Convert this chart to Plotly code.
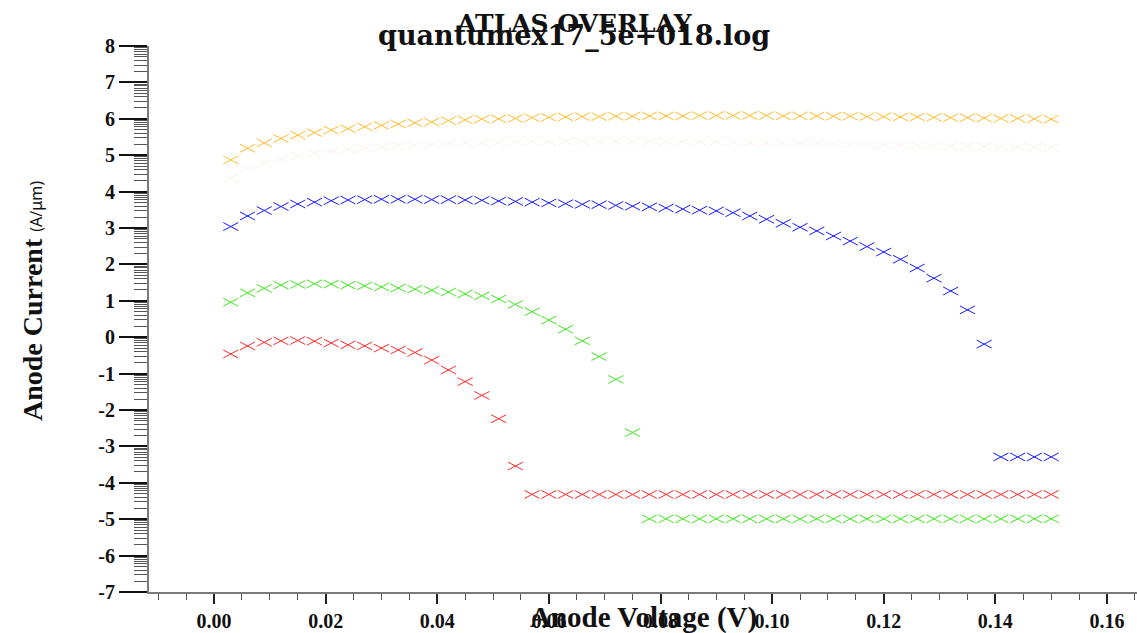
import math
import plotly.graph_objects as go

# Anode voltage sweep (V)
voltage = [0.003, 0.006, 0.009, 0.012, 0.015, 0.018, 0.021, 0.024, 0.027, 0.030,
           0.033, 0.036, 0.039, 0.042, 0.045, 0.048, 0.051, 0.054, 0.057, 0.060,
           0.063, 0.066, 0.069, 0.072, 0.075, 0.078, 0.081, 0.084, 0.087, 0.090,
           0.093, 0.096, 0.099, 0.102, 0.105, 0.108, 0.111, 0.114, 0.117, 0.120,
           0.123, 0.126, 0.129, 0.132, 0.135, 0.138, 0.141, 0.144, 0.147, 0.150]

# Anode current (A/um) per overlaid log file
current_pale = [4.37, 4.64, 4.78, 4.89, 4.98, 5.05, 5.11, 5.16, 5.20, 5.23,
                5.26, 5.28, 5.30, 5.32, 5.33, 5.34, 5.35, 5.36, 5.37, 5.37,
                5.38, 5.38, 5.38, 5.38, 5.38, 5.38, 5.37, 5.37, 5.36, 5.36,
                5.35, 5.35, 5.34, 5.33, 5.33, 5.32, 5.31, 5.30, 5.30, 5.29,
                5.28, 5.27, 5.26, 5.25, 5.25, 5.24, 5.23, 5.22, 5.22, 5.21]

current_orange = [4.87, 5.19, 5.34, 5.46, 5.55, 5.62, 5.69, 5.73, 5.78, 5.82,
                  5.86, 5.89, 5.91, 5.95, 5.97, 5.99, 6.00, 6.01, 6.03, 6.04,
                  6.05, 6.06, 6.06, 6.07, 6.07, 6.08, 6.08, 6.08, 6.09, 6.09,
                  6.09, 6.09, 6.09, 6.08, 6.08, 6.08, 6.07, 6.07, 6.06, 6.06,
                  6.05, 6.05, 6.04, 6.03, 6.03, 6.02, 6.01, 6.01, 6.00, 5.99]

current_blue = [3.04, 3.33, 3.48, 3.59, 3.66, 3.71, 3.75, 3.77, 3.78, 3.79,
                3.79, 3.79, 3.78, 3.78, 3.77, 3.76, 3.74, 3.73, 3.71, 3.69,
                3.67, 3.65, 3.64, 3.62, 3.60, 3.58, 3.55, 3.52, 3.49, 3.47,
                3.42, 3.33, 3.24, 3.13, 3.02, 2.92, 2.78, 2.64, 2.49, 2.34,
                2.14, 1.90, 1.62, 1.27, 0.75, -0.19, -3.29, -3.29, -3.29, -3.29]

current_green = [0.96, 1.22, 1.34, 1.43, 1.45, 1.47, 1.46, 1.43, 1.41, 1.38,
                 1.35, 1.32, 1.29, 1.24, 1.19, 1.14, 1.05, 0.90, 0.70, 0.47,
                 0.22, -0.10, -0.53, -1.16, -2.62, -4.99, -4.99, -4.99, -4.99, -4.99,
                 -4.99, -4.99, -4.99, -4.99, -4.99, -4.99, -4.99, -4.99, -4.99, -4.99,
                 -4.99, -4.99, -4.99, -4.99, -4.99, -4.99, -4.99, -4.99, -4.99, -4.99]

current_red = [-0.46, -0.24, -0.14, -0.10, -0.09, -0.11, -0.16, -0.21, -0.24, -0.30,
               -0.35, -0.42, -0.63, -0.90, -1.22, -1.60, -2.24, -3.54, -4.32, -4.32,
               -4.32, -4.32, -4.32, -4.32, -4.32, -4.32, -4.32, -4.32, -4.32, -4.32,
               -4.32, -4.32, -4.32, -4.32, -4.32, -4.32, -4.32, -4.32, -4.32, -4.32,
               -4.32, -4.32, -4.32, -4.32, -4.32, -4.32, -4.32, -4.32, -4.32, -4.32]

series = [
    ("pale", current_pale, "#fdf1ee"),
    ("orange", current_orange, "#ffbb2a"),
    ("blue", current_blue, "#1a1aff"),
    ("green", current_green, "#3ee81e"),
    ("red", current_red, "#ff2a2a"),
]

x_ticks = [0.00, 0.02, 0.04, 0.06, 0.08, 0.10, 0.12, 0.14, 0.16]
y_ticks = [-7, -6, -5, -4, -3, -2, -1, 0, 1, 2, 3, 4, 5, 6, 7, 8]

X_RANGE = [-0.01165, 0.16538]
Y_RANGE = [-7, 8]

# half-size of the wide "x" glyph in data units
HALF_W = 0.00135
HALF_H = 0.11

SERIF = "Liberation Serif"
TITLE_SERIF = "DejaVu Serif"


def cross_path(xs, ys):
    """Two diagonal strokes per sample, separated by gaps."""
    px, py = [], []
    for x, y in zip(xs, ys):
        px += [x - HALF_W, x + HALF_W, None, x - HALF_W, x + HALF_W, None]
        py += [y - HALF_H, y + HALF_H, None, y + HALF_H, y - HALF_H, None]
    return px, py


fig = go.Figure()
for name, values, color in series:
    px, py = cross_path(voltage, values)
    fig.add_trace(go.Scatter(
        x=px, y=py, mode="lines", name=name,
        line=dict(color=color, width=1), hoverinfo="skip",
        showlegend=False,
    ))

# log-style minor ticks on the current axis
y_minor = []
for n in range(Y_RANGE[0], Y_RANGE[1]):
    for k in range(2, 10):
        y_minor.append(n + math.log10(k))

tick_font = dict(family=SERIF, size=20, color="#111111", weight="bold")

fig.update_layout(
    width=1137, height=633,
    margin=dict(l=149, r=0, t=46, b=41),
    plot_bgcolor="white", paper_bgcolor="white",
    xaxis=dict(
        range=X_RANGE, showgrid=False, zeroline=False,
        showline=True, linecolor="#7a7a7a", linewidth=2,
        tickmode="array", tickvals=x_ticks,
        ticktext=[f"{v:.2f}" for v in x_ticks],
        ticks="outside", ticklen=10, tickwidth=2, tickcolor="#222222",
        tickfont=tick_font,
        minor=dict(tick0=0, dtick=0.005, ticks="outside", ticklen=6,
                   tickwidth=1, tickcolor="#555555", showgrid=False),
    ),
    xaxis2=dict(
        range=X_RANGE, overlaying="x", side="top", anchor="y",
        showline=True, linecolor="#111111", linewidth=1.5,
        showticklabels=False, ticks="", showgrid=False, zeroline=False,
    ),
    yaxis=dict(
        range=Y_RANGE, showgrid=False, zeroline=False,
        showline=True, linecolor="#7a7a7a", linewidth=2,
        tickmode="array", tickvals=y_ticks,
        ticktext=[str(v) for v in y_ticks],
        ticks="outside", ticklen=28, tickwidth=2, tickcolor="#111111",
        tickfont=tick_font,
        minor=dict(tickmode="array", tickvals=y_minor, ticks="outside",
                   ticklen=13, tickwidth=1, tickcolor="#555555",
                   showgrid=False),
    ),
    annotations=[
        dict(text="<b>quantumex17_5e+018.log</b>", xref="paper", yref="paper",
             x=(574 - 149) / 988, y=1 + (46 - 36) / 546, xanchor="center",
             yanchor="middle", showarrow=False,
             font=dict(family=TITLE_SERIF, size=27, color="#111111")),
        dict(text="<b>ATLAS OVERLAY</b>", xref="paper", yref="paper",
             x=(574 - 149) / 988, y=1 + (46 - 24) / 546, xanchor="center",
             yanchor="middle", showarrow=False,
             font=dict(family=TITLE_SERIF, size=25, color="#111111")),
        dict(text="<b>Anode Voltage (V)</b>", xref="paper", yref="paper",
             x=0.5, y=-(617 - 592) / 546, xanchor="center", yanchor="middle",
             showarrow=False,
             font=dict(family=SERIF, size=29, color="#111111")),
        dict(text="<b>Anode Current</b> <span style='font-family:Noto Sans;"
                  "font-size:16px;font-weight:normal'>(A/μm)</span>",
             xref="paper", yref="paper", textangle=-90,
             x=(32 - 149) / 988, y=(592 - 301) / 546,
             xanchor="center", yanchor="middle", showarrow=False,
             font=dict(family=SERIF, size=28, color="#111111")),
    ],
)

fig.write_html("out.html")
